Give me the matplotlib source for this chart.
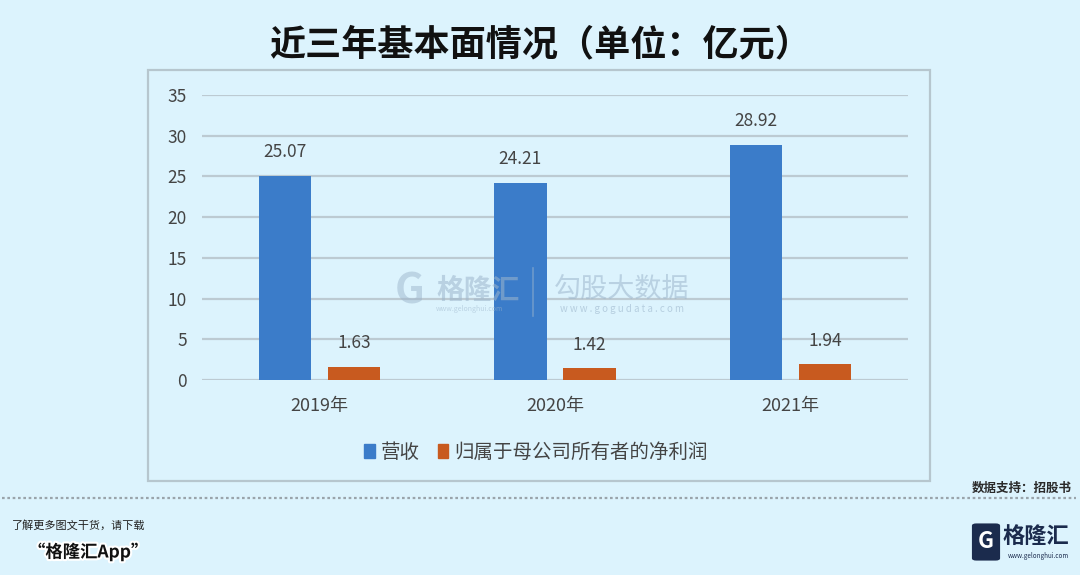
import matplotlib
matplotlib.use("Agg")
import matplotlib.pyplot as plt
import matplotlib.patches as mpatches
import matplotlib.patheffects as pe
from matplotlib.lines import Line2D
import numpy as np

plt.rcParams['font.family'] = ['Noto Sans CJK SC', 'DejaVu Sans']

# ---- data ----
categories = ['2019年', '2020年', '2021年']
revenue = [25.07, 24.21, 28.92]
net_profit = [1.63, 1.42, 1.94]
series_names = ['营收', '归属于母公司所有者的净利润']
yticks = [0, 5, 10, 15, 20, 25, 30, 35]
title = '近三年基本面情况（单位：亿元）'
source = '数据支持：招股书'

BG = '#dcf3fd'
BLUE = '#3b7cc9'
ORANGE = '#c85a1f'
GRID = '#bccad2'
TXT = '#444444'

W, H = 1080, 575
fig = plt.figure(figsize=(W / 100, H / 100), dpi=100, facecolor=BG)

def fx(px):
    return px / W

def fy(py):
    return (H - py) / H

# panel border
panel = mpatches.Rectangle((fx(148), fy(481)), fx(930) - fx(148), fy(70) - fy(481),
                           transform=fig.transFigure, facecolor='none',
                           edgecolor='#b6c6ce', linewidth=1.6, zorder=-1)
fig.patches.append(panel)

ax = fig.add_axes([fx(202), fy(380), fx(908) - fx(202), fy(95) - fy(380)])
ax.set_facecolor('none')

x = np.arange(len(categories))
off = 0.147
bw = 0.222
b1 = ax.bar(x - off, revenue, bw, color=BLUE, zorder=3, label=series_names[0])
b2 = ax.bar(x + off, net_profit, bw, color=ORANGE, zorder=3, label=series_names[1])

for bars, vals in ((b1, revenue), (b2, net_profit)):
    for r, v in zip(bars, vals):
        ax.annotate(f'{v:.2f}', (r.get_x() + r.get_width() / 2, v),
                    xytext=(0, 17), textcoords='offset points',
                    ha='center', va='center', fontsize=12.5, color=TXT, zorder=4)

ax.set_xlim(-0.5, 2.5)
ax.set_ylim(0, 35)
ax.set_yticks(yticks)
ax.set_xticks(x)
ax.set_xticklabels(categories)
ax.grid(axis='y', color=GRID, linewidth=1.6, zorder=1)
ax.set_axisbelow(True)
for s in ax.spines.values():
    s.set_visible(False)
ax.tick_params(axis='y', length=0, pad=11, labelsize=12.5, labelcolor=TXT)
ax.tick_params(axis='x', length=0, pad=12, labelsize=13, labelcolor=TXT)

# legend
handles = [mpatches.Patch(color=BLUE, label=series_names[0]),
           mpatches.Patch(color=ORANGE, label=series_names[1])]
fig.legend(handles=handles, loc='center', bbox_to_anchor=(fx(536), fy(452)),
           ncol=2, frameon=False, fontsize=14, handlelength=0.55, handleheight=0.7,
           handletextpad=0.3, columnspacing=0.9, labelcolor=TXT)

# title
fig.text(0.5, fy(45), title, ha='center', va='center', fontsize=26,
         fontweight='bold', color='#111111')

# watermark
wm = '#9db6cc'
fig.text(fx(478), fy(291), '格隆汇', ha='center', va='center', fontsize=20,
         fontweight='bold', color=wm, alpha=0.55, zorder=5)
fig.text(fx(470), fy(309), 'www.gelonghui.com', ha='center', va='center', fontsize=5,
         color=wm, alpha=0.55, zorder=5)
fig.text(fx(410), fy(292), 'G', ha='center', va='center', fontsize=30,
         fontweight='bold', color=wm, alpha=0.5, zorder=5)
fig.add_artist(Line2D([fx(533), fx(533)], [fy(268), fy(316)], color=wm,
                      alpha=0.5, linewidth=1.2, transform=fig.transFigure, zorder=5))
fig.text(fx(622), fy(289), '勾股大数据', ha='center', va='center', fontsize=19.5,
         color=wm, alpha=0.55, zorder=5)
fig.text(fx(622), fy(309), 'w w w . g o g u d a t a . c o m', ha='center', va='center',
         fontsize=7, color=wm, alpha=0.6, zorder=5)

# source & dotted separator
fig.text(fx(1072), fy(488), source, ha='right', va='center', fontsize=9,
         fontweight='bold', color='#2a2a2a')
fig.add_artist(Line2D([fx(2), fx(1076)], [fy(498), fy(498)], color='#9aa4ab',
                      linestyle=(0, (1.2, 1.2)), linewidth=1.6,
                      transform=fig.transFigure))

# footer left
fig.text(fx(12), fy(525), '了解更多图文干货，请下载', ha='left', va='center',
         fontsize=8, color='#222222')
fig.text(fx(28), fy(552), '“格隆汇App”', ha='left', va='center', fontsize=12.5,
         fontweight='bold', color='#111111',
         path_effects=[pe.withStroke(linewidth=3, foreground='white')])

# footer logo
logo = mpatches.FancyBboxPatch((fx(973), fy(560)), fx(26), fy(524) - fy(560),
                               boxstyle='round,pad=0.001,rounding_size=0.004',
                               transform=fig.transFigure, facecolor='#1b2b4d',
                               edgecolor='none')
fig.patches.append(logo)
fig.text(fx(986), fy(541), 'G', ha='center', va='center', fontsize=16,
         fontweight='bold', color='white')
fig.text(fx(1036), fy(536), '格隆汇', ha='center', va='center', fontsize=16,
         fontweight='bold', color='#1b2b4d')
fig.text(fx(1038), fy(556), 'www.gelonghui.com', ha='center', va='center',
         fontsize=4.5, color='#1b2b4d')

fig.savefig('out.png', dpi=100, facecolor=BG)
